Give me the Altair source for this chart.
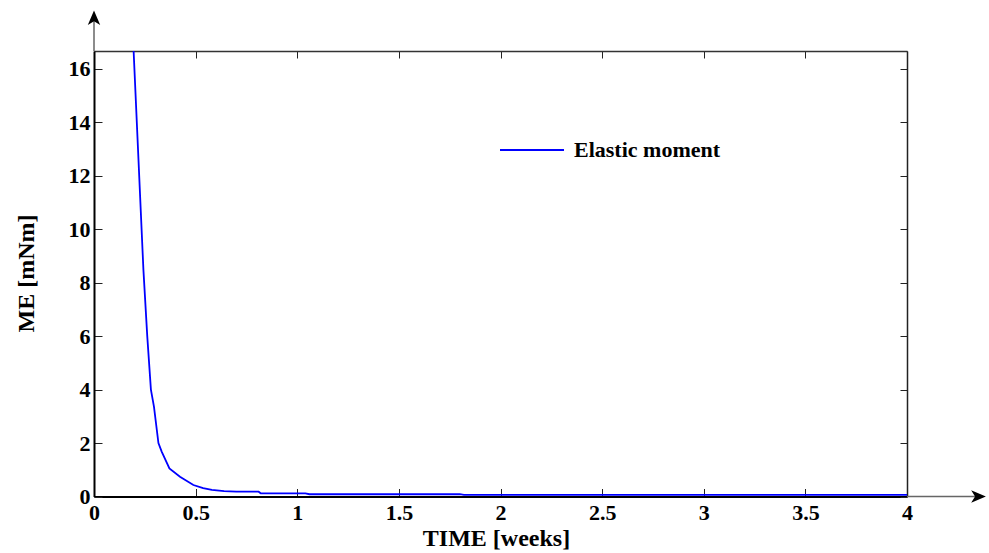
import altair as alt
import pandas as pd

# ---- data ----
TIME = [0.18, 0.243, 0.262, 0.280, 0.295, 0.317, 0.333, 0.371, 0.423, 0.489,
        0.537, 0.58, 0.64, 0.70, 0.81, 0.82, 1.04, 1.06, 1.80, 1.82, 4.0]
ME = [19.2, 8.5, 6.0, 4.0, 3.36, 2.0, 1.68, 1.05, 0.74, 0.43,
      0.31, 0.25, 0.20, 0.18, 0.18, 0.12, 0.12, 0.085, 0.085, 0.06, 0.06]
SERIES = "Elastic moment"
X_TICKS = [0, 0.5, 1, 1.5, 2, 2.5, 3, 3.5, 4]
Y_TICKS = [0, 2, 4, 6, 8, 10, 12, 14, 16]
X_MAX = 4.0
Y_MAX = 16.67
ARROW_X_END = 4.35   # x-axis arrow head centre (data units)
ARROW_Y_END = 17.9   # y-axis arrow head centre (data units)

W, H = 813, 445.5
FONT = "Liberation Serif"

df = pd.DataFrame({"t": TIME, "v": ME, "series": [SERIES] * len(TIME)})
xs = alt.Scale(domain=[0, X_MAX], nice=False, zero=False)
ys = alt.Scale(domain=[0, Y_MAX], nice=False, zero=False)

base = alt.Chart(df)

line = base.mark_line(clip=True, strokeWidth=1.8).encode(
    x=alt.X("t:Q", scale=xs, title="TIME [weeks]",
            axis=alt.Axis(orient="bottom", values=X_TICKS, format="~g",
                          ticks=False, tickSize=0, domain=True,
                          domainColor="black", domainWidth=2, grid=False,
                          labelFont=FONT, labelFontSize=22, labelFontWeight="bold",
                          labelColor="black", labelPadding=6, labelFlush=False,
                          labelOverlap=False,
                          titleFont=FONT, titleFontSize=24, titleFontWeight="bold",
                          titleColor="black", titleX=402, titleY=48.5,
                          titleBaseline="alphabetic", titleAlign="center")),
    y=alt.Y("v:Q", scale=ys, title="ME [mNm]",
            axis=alt.Axis(orient="left", values=Y_TICKS, format="~g",
                          ticks=False, tickSize=0, domain=True,
                          domainColor="black", domainWidth=2, grid=False,
                          labelFont=FONT, labelFontSize=22, labelFontWeight="bold",
                          labelColor="black", labelPadding=4, labelOverlap=False,
                          labelFlush=False,
                          titleFont=FONT, titleFontSize=24, titleFontWeight="bold",
                          titleColor="black", titleAngle=270, titleX=-61, titleY=222,
                          titleBaseline="alphabetic", titleAlign="center")),
    color=alt.Color("series:N", scale=alt.Scale(range=["#0000ff"]),
                    legend=alt.Legend(orient="none", legendX=405, legendY=66,
                                      title=None, symbolType="stroke",
                                      symbolSize=4096, symbolStrokeWidth=2,
                                      padding=0, labelFont=FONT, labelFontSize=22,
                                      labelFontWeight="bold", labelColor="black",
                                      labelOffset=9)),
)

# inward ticks at bottom and left
ticks_bl = base.mark_point(opacity=0).encode(
    x=alt.X("t:Q", scale=xs, title=None,
            axis=alt.Axis(orient="top", offset=-H, values=X_TICKS, labels=False,
                          domain=False, ticks=True, tickSize=8, tickColor="#222",
                          tickWidth=1, grid=False)),
    y=alt.Y("v:Q", scale=ys, title=None,
            axis=alt.Axis(orient="right", offset=-W, values=Y_TICKS, labels=False,
                          domain=False, ticks=True, tickSize=8, tickColor="#222",
                          tickWidth=1, grid=False)),
)

# inward ticks + frame at top and right
ticks_tr = base.mark_point(opacity=0).encode(
    x=alt.X("t:Q", scale=xs, title=None,
            axis=alt.Axis(orient="bottom", offset=-H, values=X_TICKS, labels=False,
                          domain=True, domainColor="#333", domainWidth=1.5,
                          ticks=True, tickSize=7, tickColor="#222",
                          tickWidth=1, grid=False)),
    y=alt.Y("v:Q", scale=ys, title=None,
            axis=alt.Axis(orient="left", offset=-W, values=Y_TICKS, labels=False,
                          domain=True, domainColor="#222", domainWidth=1.5,
                          ticks=True, tickSize=7, tickColor="#222",
                          tickWidth=1, grid=False)),
)

# axis arrows
arrow_lines = pd.DataFrame({"x": [X_MAX, 0], "x2": [ARROW_X_END, 0],
                            "y": [0, Y_MAX], "y2": [0, ARROW_Y_END]})
arrow_heads = pd.DataFrame({"x": [ARROW_X_END, 0], "y": [0, ARROW_Y_END],
                            "ang": [90, 0]})

rules = alt.Chart(arrow_lines).mark_rule(color="#666", strokeWidth=1.5).encode(
    x=alt.X("x:Q", scale=xs, axis=None), x2="x2:Q",
    y=alt.Y("y:Q", scale=ys, axis=None), y2="y2:Q",
)
heads = alt.Chart(arrow_heads).mark_point(
    shape="M0,-1 L0.8,0.9 L0,0.4 L-0.8,0.9 Z", filled=True, color="black",
    opacity=1, size=240, strokeWidth=0,
).encode(
    x=alt.X("x:Q", scale=xs, axis=None),
    y=alt.Y("y:Q", scale=ys, axis=None),
    angle=alt.Angle("ang:Q", scale=None),
)

chart = alt.layer(ticks_bl, ticks_tr, rules, heads, line).resolve_axis(
    x="independent", y="independent"
).properties(
    width=W, height=H,
    autosize=alt.AutoSizeParams(type="none"),
    padding={"left": 94, "top": 51, "right": 82, "bottom": 56.5},
    background="white",
).configure_view(stroke=None)

chart.save("out.html", embed_options={"renderer": "svg", "actions": False})
